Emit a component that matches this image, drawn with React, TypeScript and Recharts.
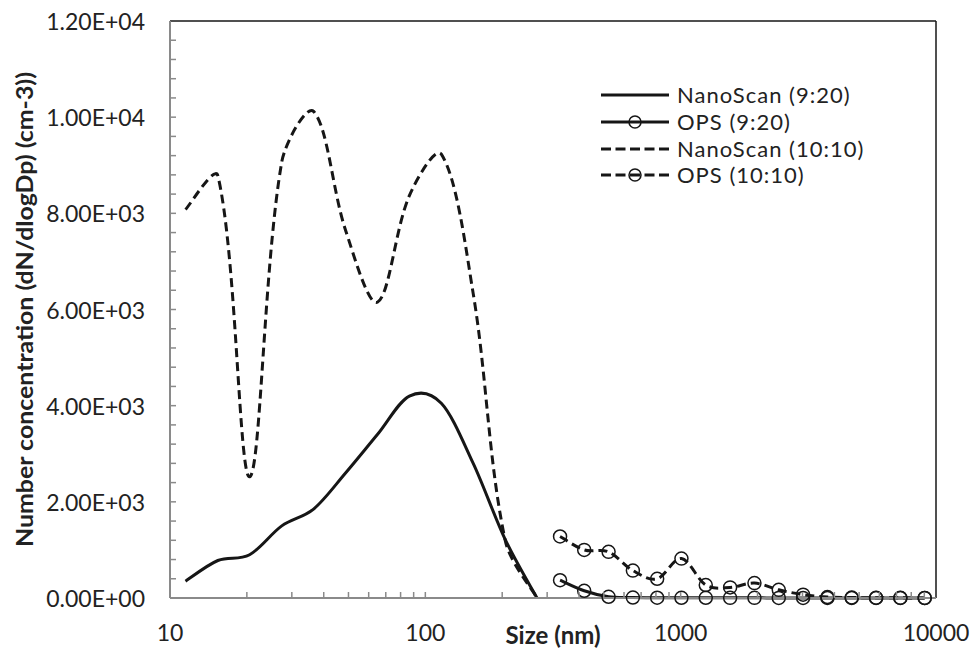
import { LineChart, Line, XAxis, YAxis, Legend, ReferenceLine, Label } from "recharts";

// NanoScan channel midpoints (nm) and the two scans
const nanoSizes = [11.5, 15.4, 20.5, 27.4, 36.5, 48.7, 64.9, 86.6, 115.5, 154.0, 205.4, 273.8];
const nano0920 = [350, 780, 900, 1500, 1850, 2600, 3400, 4200, 4050, 2800, 1220, 0];
const nano1010 = [8080, 8780, 2520, 9070, 10120, 7650, 6150, 8370, 9230, 6330, 1200, 0];

// OPS channel midpoints (nm)
const opsSizes = [337, 419, 522, 650, 809, 1007, 1254, 1562, 1945, 2422, 3016, 3756, 4677, 5824, 7252, 9031];
const ops0920 = [370, 150, 25, 10, 6, 5, 4, 3, 3, 2, 2, 1, 1, 1, 1, 0];
const ops1010 = [1280, 1000, 960, 570, 400, 820, 270, 220, 310, 170, 70, 20, 10, 5, 3, 2];

const xTicks = [10, 20, 30, 40, 50, 60, 70, 80, 90, 100, 200, 300, 400, 500, 600, 700, 800, 900,
  1000, 2000, 3000, 4000, 5000, 6000, 7000, 8000, 9000, 10000];
const yTicks = Array.from({ length: 31 }, (_, i) => i * 400);

const FONT = "Lato, 'Open Sans', sans-serif";
const INK = "#161616";
const AXIS = "#8a8a8a";

const toRows = (sizes: number[], vals: (number | null)[]) =>
  sizes.map((size, i) => ({ size, v: vals[i] }));

// Excel-like smoothed line through every point. weighted=true shortens each
// handle by the length of its own segment, which keeps sharp peaks pointed.
const smooth = (weighted: boolean) => (context: any) => {
  let xs: number[] = [];
  let ys: number[] = [];
  return {
    areaStart() {},
    areaEnd() {},
    lineStart() {
      xs = [];
      ys = [];
    },
    point(x: number, y: number) {
      xs.push(+x);
      ys.push(+y);
    },
    lineEnd() {
      const n = xs.length;
      if (!n) return;
      const dist = (i: number, j: number) => Math.hypot(xs[j] - xs[i], ys[j] - ys[i]);
      const out: [number, number][] = [];
      const inn: [number, number][] = [];
      for (let i = 0; i < n; i++) {
        const a = Math.max(i - 1, 0);
        const b = Math.min(i + 1, n - 1);
        const tx = xs[b] - xs[a];
        const ty = ys[b] - ys[a];
        if (!weighted || i === 0 || i === n - 1) {
          out.push([tx / 6, ty / 6]);
          inn.push([tx / 6, ty / 6]);
          continue;
        }
        const dp = dist(a, i);
        const dn = dist(i, b);
        const s = dp + dn || 1;
        out.push([(tx * dn) / s / 3, (ty * dn) / s / 3]);
        inn.push([(tx * dp) / s / 3, (ty * dp) / s / 3]);
      }
      context.moveTo(xs[0], ys[0]);
      for (let i = 0; i < n - 1; i++) {
        context.bezierCurveTo(
          xs[i] + out[i][0],
          ys[i] + out[i][1],
          xs[i + 1] - inn[i + 1][0],
          ys[i + 1] - inn[i + 1][1],
          xs[i + 1],
          ys[i + 1]
        );
      }
    },
  };
};

const series = [
  { name: "NanoScan (9:20)", data: toRows(nanoSizes, nano0920), dash: undefined, dot: false, curve: smooth(false) },
  { name: "OPS (9:20)", data: toRows(opsSizes, ops0920), dash: undefined, dot: true, curve: smooth(false) },
  { name: "NanoScan (10:10)", data: toRows(nanoSizes, nano1010), dash: "9 5", dot: false, curve: smooth(true) },
  { name: "OPS (10:10)", data: toRows(opsSizes, ops1010), dash: "9 5", dot: true, curve: smooth(false) },
];

function sci(v: number) {
  const [m, e] = v.toExponential(2).split("e");
  const n = parseInt(e, 10);
  return `${m}E${n < 0 ? "-" : "+"}${String(Math.abs(n)).padStart(2, "0")}`;
}

const XTick = (props: any) => {
  const { x, y, payload } = props;
  const v = payload.value;
  const lg = Math.log10(v);
  const major = Math.abs(lg - Math.round(lg)) < 1e-9;
  return (
    <g>
      {v > 10 && v < 10000 && <line x1={x} x2={x} y1={y} y2={y - 6} stroke={AXIS} strokeWidth={1.5} />}
      {major && (
        <text x={x} y={y + 34} textAnchor="middle" dominantBaseline="central"
          fontFamily={FONT} fontSize={23} fill="#222">
          {v}
        </text>
      )}
    </g>
  );
};

const YTick = (props: any) => {
  const { x, y, payload } = props;
  const v = payload.value;
  return (
    <g>
      {v > 0 && v < 12000 && <line x1={x} x2={x + 6} y1={y} y2={y} stroke={AXIS} strokeWidth={1.5} />}
      {v % 2000 === 0 && (
        <text x={x - 25} y={y} textAnchor="end" dominantBaseline="central"
          fontFamily={FONT} fontSize={23} fill="#222">
          {sci(v)}
        </text>
      )}
    </g>
  );
};

const LegendBox = () => (
  <div style={{ fontFamily: FONT, color: "#222" }}>
    {series.map((s) => (
      <div key={s.name} style={{ display: "flex", alignItems: "center", height: 26.7 }}>
        <svg width={70} height={20}>
          <line x1={1} x2={69} y1={10} y2={10} stroke={INK} strokeWidth={3}
            strokeDasharray={s.dash ? "10 4.5" : undefined} />
          {s.dot && <circle cx={35} cy={10} r={6} fill="none" stroke={INK} strokeWidth={1.5} />}
        </svg>
        <span style={{ fontSize: 22, marginLeft: 7, lineHeight: 1, letterSpacing: 1 }}>{s.name}</span>
      </div>
    ))}
  </div>
);

export default function App() {
  return (
    <div style={{ position: "absolute", left: 0, top: 0, background: "#fff" }}>
      <LineChart width={972} height={655} margin={{ top: 21, right: 36, bottom: 7, left: 70 }}>
        <XAxis
          dataKey="size"
          type="number"
          scale="log"
          domain={[10, 10000]}
          ticks={xTicks}
          interval={0}
          allowDuplicatedCategory={false}
          height={50}
          tickSize={0}
          tickMargin={0}
          tickLine={false}
          axisLine={{ stroke: AXIS, strokeWidth: 2 }}
          tick={<XTick />}
        >
          <Label
            content={(p: any) => {
              const vb = p.viewBox;
              return (
                <text x={vb.x + vb.width / 2} y={vb.y + 36} textAnchor="middle" dominantBaseline="central"
                  fontFamily={FONT} fontSize={24} fontWeight="bold" fill="#222">
                  Size (nm)
                </text>
              );
            }}
          />
        </XAxis>
        <YAxis
          type="number"
          domain={[0, 12000]}
          ticks={yTicks}
          interval={0}
          width={100}
          tickSize={0}
          tickMargin={0}
          tickLine={false}
          axisLine={{ stroke: AXIS, strokeWidth: 2 }}
          tick={<YTick />}
        >
          <Label
            content={(p: any) => {
              const vb = p.viewBox;
              const cx = vb.x - 46;
              const cy = vb.y + vb.height / 2;
              return (
                <text x={cx} y={cy} transform={`rotate(-90 ${cx} ${cy})`} textAnchor="middle"
                  dominantBaseline="central" fontFamily={FONT} fontSize={22} fontWeight="bold" fill="#222"
                  textLength={475} lengthAdjust="spacingAndGlyphs">
                  Number concentration (dN/dlogDp) (cm-3))
                </text>
              );
            }}
          />
        </YAxis>
        <ReferenceLine y={12000} stroke={INK} strokeWidth={1.5} />
        <ReferenceLine x={10000} stroke={INK} strokeWidth={1.5} />
        {series.map((s) => (
          <Line
            key={s.name}
            name={s.name}
            data={s.data}
            dataKey="v"
            type={s.curve as any}
            stroke={INK}
            strokeWidth={3}
            strokeDasharray={s.dash}
            dot={s.dot ? { r: 6.5, fill: "none", stroke: INK, strokeWidth: 1.5, strokeDasharray: "" } : false}
            activeDot={false}
            isAnimationActive={false}
          />
        ))}
        <Legend
          layout="horizontal"
          verticalAlign="middle"
          align="center"
          content={<LegendBox />}
          wrapperStyle={{ position: "absolute", left: 600, top: 82, width: 340 }}
        />
      </LineChart>
    </div>
  );
}
